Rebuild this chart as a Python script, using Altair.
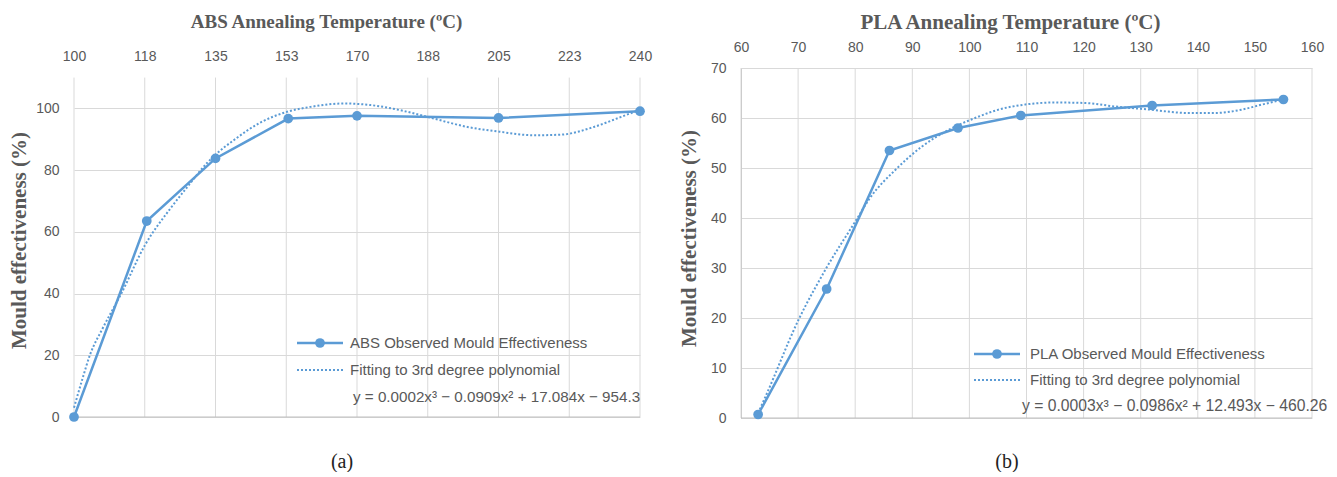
import altair as alt
import pandas as pd

# ---------------- data ----------------
# (a) ABS
abs_temp = [100, 118, 135, 153, 170, 205, 240]
abs_eff = [0.0, 63.5, 83.8, 96.7, 97.6, 96.9, 99.1]
abs_fit_temp = [100, 102, 104, 107, 111.7, 117.6, 123.8, 128.0, 132.9, 135.0, 139.5, 146.2,
                152.7, 158.5, 166.7, 173.3, 180.8, 189, 197.3, 205.5, 213.8, 220.4, 228.6,
                235.2, 240]
abs_fit_eff = [3.0, 12.0, 20.3, 28.5, 40.0, 55.8, 67.5, 74.5, 82.3, 85.0, 89.7, 95.5,
               98.9, 100.5, 101.6, 101.1, 99.4, 96.7, 94.0, 92.4, 91.3, 91.5, 94.0,
               97.2, 99.6]
abs_xticks = [100, 117.5, 135, 152.5, 170, 187.5, 205, 222.5, 240]
abs_yticks = [0, 20, 40, 60, 80, 100]

# (b) PLA
pla_temp = [63, 75, 86, 98, 109, 132, 155]
pla_eff = [0.7, 25.8, 53.5, 58.0, 60.5, 62.5, 63.7]
pla_fit_temp = [63, 64.3, 70.1, 74.8, 80.4, 82.4, 87.1, 91.7, 97, 101, 105.2, 109.8,
                115, 120.3, 125.5, 131.4, 138.4, 143, 147.8, 151.3, 155]
pla_fit_eff = [1.0, 4.3, 19.7, 29.7, 40.0, 43.7, 49.7, 54.3, 58.0, 60.0, 61.7, 62.7,
               63.1, 63.0, 62.3, 61.7, 61.0, 61.0, 61.7, 62.7, 63.7]
pla_xticks = [60, 70, 80, 90, 100, 110, 120, 130, 140, 150, 160]
pla_yticks = [0, 10, 20, 30, 40, 50, 60, 70]

abs_legend = ["ABS Observed Mould Effectiveness", "Fitting to 3rd degree polynomial",
              "y = 0.0002x\u00b3 \u2212 0.0909x\u00b2 + 17.084x \u2212 954.3"]
pla_legend = ["PLA Observed Mould Effectiveness", "Fitting to 3rd degree polynomial",
              "y = 0.0003x\u00b3 \u2212 0.0986x\u00b2 + 12.493x \u2212 460.26"]

# ---------------- styles ----------------
BLUE = "#5B9BD5"
GRID = "#D9D9D9"
AXC = "#BFBFBF"
TXT = "#595959"
SANS = "Liberation Sans"
SERIF = "Liberation Serif"


def panel(temp, eff, fit_t, fit_e, xticks, yticks, xdom, ydom, grid_top, width, height,
          xtitle, xtitle_size, xfmt, lab_pad_x, title_pad_x, title_x, title_pad_y, title_y,
          left_domain, leg_texts, leg, eq_size, caption, cap_xy):
    X = alt.X("x:Q", scale=alt.Scale(domain=xdom, nice=False, zero=False),
              axis=alt.Axis(orient="top", values=xticks, format=xfmt, grid=False,
                            domain=False, ticks=False, tickSize=0, labelPadding=lab_pad_x,
                            labelFlush=False, labelOverlap=False,
                            labelFont=SANS, labelFontSize=14, labelColor=TXT,
                            title=xtitle, titleFont=SERIF, titleFontSize=xtitle_size,
                            titleFontWeight="bold", titleColor=TXT,
                            titlePadding=title_pad_x, titleX=title_x))
    Y = alt.Y("y:Q", scale=alt.Scale(domain=ydom, nice=False, zero=True),
              axis=alt.Axis(values=yticks, grid=True, gridColor=GRID, gridWidth=1,
                            domain=left_domain, domainColor=AXC, domainWidth=1,
                            ticks=False, tickSize=0, labelPadding=15,
                            labelFont=SANS, labelFontSize=14, labelColor=TXT,
                            title="Mould effectiveness (%)", titleFont=SERIF,
                            titleFontSize=21, titleFontWeight="bold", titleColor=TXT,
                            titlePadding=title_pad_y, titleY=title_y))

    vgrid = alt.Chart(pd.DataFrame({"x": xticks, "y": [0] * len(xticks),
                                    "y2": [grid_top] * len(xticks)})).mark_rule(
        color=GRID, strokeWidth=1).encode(x=X, y=Y, y2="y2:Q")
    base = alt.Chart(pd.DataFrame({"x": [xdom[0]], "x2": [xdom[1]], "y": [0]})).mark_rule(
        color=AXC, strokeWidth=1).encode(x=X, x2="x2:Q", y=Y)
    fit = alt.Chart(pd.DataFrame({"x": fit_t, "y": fit_e})).mark_line(
        color=BLUE, strokeWidth=2, strokeDash=[2, 2], interpolate="monotone").encode(x=X, y=Y)
    obs = alt.Chart(pd.DataFrame({"x": temp, "y": eff})).mark_line(
        color=BLUE, strokeWidth=2.5,
        point=alt.OverlayMarkDef(filled=True, size=95, color=BLUE, opacity=1)).encode(x=X, y=Y)

    one = pd.DataFrame({"d": [0]})
    lx0, lx1, ltx, ly0, lstep, eqx = leg
    leg_line = alt.Chart(one).mark_rule(color=BLUE, strokeWidth=2.5).encode(
        x=alt.value(lx0), x2=alt.value(lx1), y=alt.value(ly0))
    leg_pt = alt.Chart(one).mark_point(filled=True, size=95, color=BLUE, opacity=1).encode(
        x=alt.value((lx0 + lx1) / 2), y=alt.value(ly0))
    leg_dot = alt.Chart(one).mark_rule(color=BLUE, strokeWidth=2, strokeDash=[2, 2]).encode(
        x=alt.value(lx0), x2=alt.value(lx1), y=alt.value(ly0 + lstep))
    txts = []
    for i, t in enumerate(leg_texts):
        txts.append(alt.Chart(one).mark_text(
            text=t, align="left", baseline="middle", font=SANS,
            fontSize=15 if i < 2 else eq_size, color=TXT).encode(
            x=alt.value(ltx if i < 2 else eqx), y=alt.value(ly0 + i * lstep)))
    cap = alt.Chart(one).mark_text(text=caption, align="center", baseline="middle",
                                   font=SERIF, fontSize=20, color="#222222").encode(
        x=alt.value(cap_xy[0]), y=alt.value(cap_xy[1]))

    return alt.layer(vgrid, base, fit, obs, leg_line, leg_pt, leg_dot, *txts, cap).properties(
        width=width, height=height)


left = panel(abs_temp, abs_eff, abs_fit_temp, abs_fit_eff, abs_xticks, abs_yticks,
             [100, 240], [0, 113.1], 110, 566, 349,
             "ABS Annealing Temperature (\u00baC)", 19, ".0f", 5, 18, 252, 6, 172, False,
             abs_legend, (223, 269, 276, 275, 27, 279), 15.2, "(a)", (268, 394))
right = panel(pla_temp, pla_eff, pla_fit_temp, pla_fit_eff, pla_xticks, pla_yticks,
              [60, 160], [0, 70], 70, 571, 350,
              "PLA Annealing Temperature (\u00baC)", 21, "d", 14, 8, 269, 11, 170, True,
              pla_legend, (233, 279, 289, 286, 26, 281), 15.7, "(b)", (266, 394))

chart = alt.hconcat(left, right, spacing=26).properties(
    padding={"left": 0, "top": 3, "right": 0, "bottom": 0},
    background="white",
).configure_view(strokeWidth=0)

chart.save("out.html", embed_options={"renderer": "svg", "actions": False})
